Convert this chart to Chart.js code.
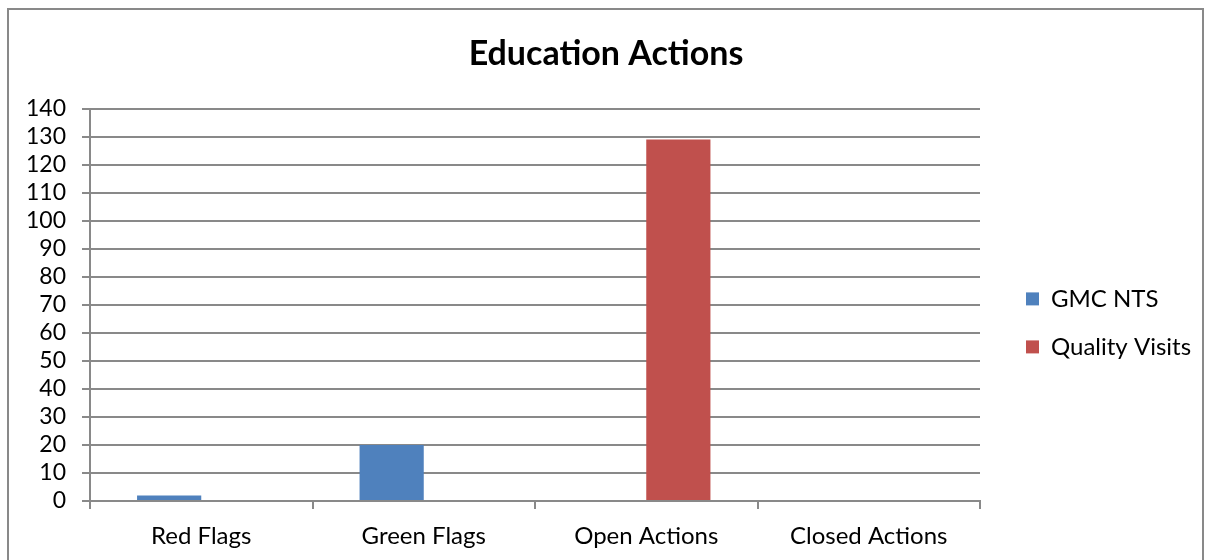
<!doctype html>
<html lang="en">
<head>
  <meta charset="utf-8">
  <title>Education Actions</title>
  <script src="https://cdn.jsdelivr.net/npm/chart.js@4/dist/chart.umd.min.js"></script>
  <style>
    body { margin:0; background:#fff; }
    .frame { position:absolute; left:7px; top:8px; width:1197px; height:560px; border:2px solid #898989; border-bottom:none; box-sizing:border-box; }
    .grafico { position:absolute; left:0; top:0; width:1206px; height:560px; }
  </style>
</head>
<body>
<div class="frame"></div>
<div class="grafico">
  <canvas id="myChart" width="1206" height="560"></canvas>
</div>

<script>
var categorias = ['Red Flags', 'Green Flags', 'Open Actions', 'Closed Actions'];
var gmcNts = [2, 20, 0, 0];
var qualityVisits = [0, 0, 129, 0];
var yTicks = [0, 10, 20, 30, 40, 50, 60, 70, 80, 90, 100, 110, 120, 130, 140];

var gris = '#898989';
var fuente = 'Lato, "Open Sans", sans-serif';

var ctx = document.getElementById('myChart').getContext('2d');
var myChart = new Chart(ctx, {
  type: 'bar',
  data: {
    labels: categorias,
    datasets: [
      { label: 'GMC NTS', data: gmcNts, backgroundColor: '#4F81BD' },
      { label: 'Quality Visits', data: qualityVisits, backgroundColor: '#C0504D' }
    ]
  },
  options: {
    responsive: false,
    animation: false,
    layout: { padding: { left: 12, right: 6, top: 34, bottom: 0 } },
    datasets: { bar: { barPercentage: 1, categoryPercentage: 0.577 } },
    scales: {
      x: {
        afterFit: (s) => { s.height = 59; },
        grid: { offset: true, drawOnChartArea: false, drawTicks: true, tickLength: 8, color: gris, lineWidth: 2 },
        border: { color: gris, width: 2 },
        ticks: { color: '#000', font: { family: fuente, size: 24 }, padding: 13 }
      },
      y: {
        min: 0, max: 140,
        afterBuildTicks: (s) => { s.ticks = yTicks.map(v => ({ value: v })); },
        afterFit: (s) => { s.width = 78; },
        grid: { color: gris, lineWidth: 2, tickLength: 8 },
        border: { color: gris, width: 2 },
        ticks: { color: '#000', font: { family: fuente, size: 23 }, padding: 16, autoSkip: false }
      },
      // eje vacio para dejar hueco entre grafico y leyenda
      hueco: {
        position: 'right', min: 0, max: 1,
        afterFit: (s) => { s.width = 22; },
        grid: { display: false }, border: { display: false }, ticks: { display: false }
      }
    },
    plugins: {
      title: {
        display: true,
        text: 'Education Actions',
        color: '#000',
        font: { family: fuente, size: 34, weight: 'bold' },
        padding: { top: 0, bottom: 34 }
      },
      legend: {
        position: 'right',
        title: { display: true, text: ' ', font: { size: 14 }, padding: { top: 0, bottom: 35 } },
        labels: {
          color: '#000',
          font: { family: fuente, size: 24 },
          boxWidth: 13, boxHeight: 13,
          padding: 24, useBorderRadius: false
        }
      },
      tooltip: { enabled: false }
    }
  }
});
</script>
</body>
</html>
